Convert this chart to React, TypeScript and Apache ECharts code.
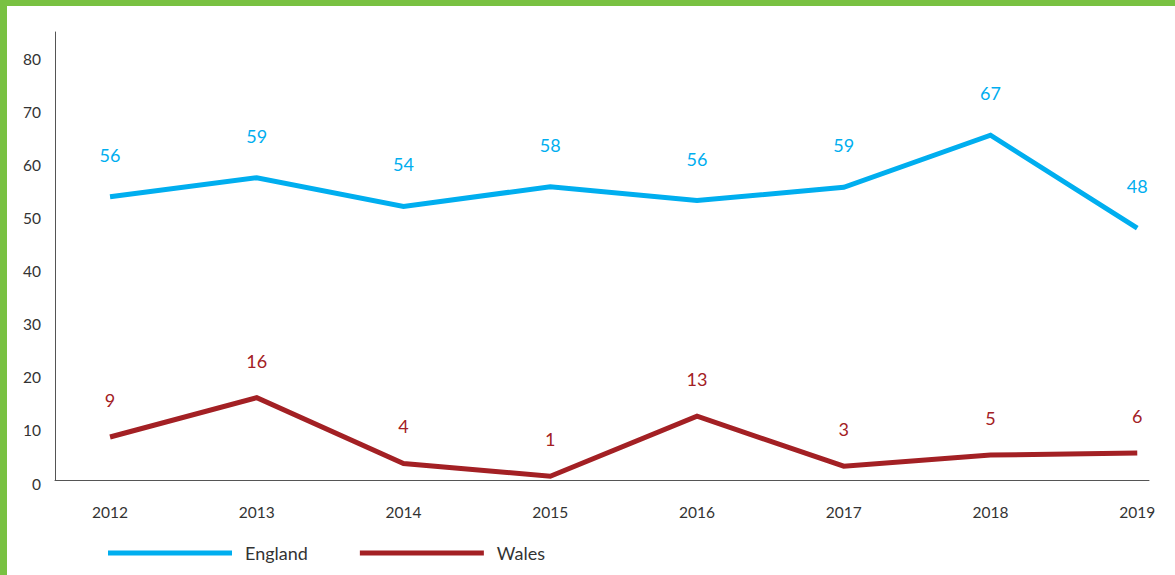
import React, { useEffect, useRef } from "react";
import * as echarts from "echarts";

const years = [2012, 2013, 2014, 2015, 2016, 2017, 2018, 2019];
// plotted line values
const englandValues = [53.3, 56.9, 51.5, 55.2, 52.6, 55.1, 64.9, 47.4];
const walesValues = [8.1, 15.5, 3.1, 0.7, 12.0, 2.6, 4.7, 5.1];
// printed data labels
const englandLabels = [56, 59, 54, 58, 56, 59, 67, 48];
const walesLabels = [9, 16, 4, 1, 13, 3, 5, 6];

const seriesNames = ["England", "Wales"];

const BLUE = "#00AEEF";
const RED = "#A32024";
const GREEN = "#79C142";
const FONT = "Lato";

export default function App() {
  const ref = useRef<HTMLDivElement>(null);

  useEffect(() => {
    if (!ref.current) return;
    const chart = echarts.init(ref.current, undefined, { renderer: "svg" });
    const mk = (vals: number[]) => years.map((y, i) => [y, vals[i]]);
    chart.setOption({
      animation: false,
      textStyle: { fontFamily: FONT },
      grid: { left: 55, right: 26, top: 32, bottom: 95, containLabel: false },
      legend: {
        data: seriesNames,
        left: 108,
        top: 543,
        padding: 0,
        icon: "rect",
        itemWidth: 124,
        itemHeight: 5,
        itemGap: 52,
        textStyle: {
          fontFamily: FONT,
          fontSize: 18,
          color: "#333333",
          lineHeight: 20,
          padding: [0, 0, 0, 8],
        },
      },
      xAxis: {
        type: "value",
        min: 2011.625,
        max: 2019.08,
        interval: 0.125,
        splitLine: { show: false },
        axisTick: { show: false },
        axisLine: { show: true, lineStyle: { color: "#555555", width: 1 } },
        axisLabel: {
          color: "#333333",
          fontFamily: FONT,
          fontSize: 15.5,
          margin: 24,
          showMinLabel: false,
          showMaxLabel: false,
          formatter: (v: number) => (Math.abs(v - Math.round(v)) < 1e-6 ? String(Math.round(v)) : ""),
        },
      },
      yAxis: {
        type: "value",
        min: 0,
        max: 84.33,
        interval: 10,
        splitLine: { show: false },
        axisTick: { show: false },
        axisLine: { show: true, lineStyle: { color: "#555555", width: 1 } },
        axisLabel: {
          color: "#333333",
          fontFamily: FONT,
          fontSize: 15.5,
          margin: 14,
          verticalAlign: "top",
          lineHeight: 7,
          showMaxLabel: false,
          formatter: (v: number) => (Number.isInteger(v) ? String(v) : ""),
        },
      },
      series: [
        {
          name: seriesNames[0],
          type: "line",
          data: mk(englandValues),
          color: BLUE,
          symbol: "circle",
          symbolSize: 0.1,
          showSymbol: true,
          lineStyle: { width: 5, color: BLUE, join: "miter", cap: "butt" },
          label: {
            show: true,
            position: "top",
            distance: 33,
            color: BLUE,
            fontFamily: FONT,
            fontSize: 18,
            formatter: (p: any) => String(englandLabels[p.dataIndex]),
          },
        },
        {
          name: seriesNames[1],
          type: "line",
          data: mk(walesValues),
          color: RED,
          symbol: "circle",
          symbolSize: 0.1,
          showSymbol: true,
          lineStyle: { width: 5, color: RED, join: "miter", cap: "butt" },
          label: {
            show: true,
            position: "top",
            distance: 28,
            color: RED,
            fontFamily: FONT,
            fontSize: 18,
            formatter: (p: any) => String(walesLabels[p.dataIndex]),
          },
        },
      ],
    });
    return () => chart.dispose();
  }, []);

  return (
    <div style={{ position: "absolute", left: 0, top: 0, width: 1175, height: 575, background: "#ffffff" }}>
      <div ref={ref} style={{ position: "absolute", left: 0, top: 0, width: 1175, height: 575 }} />
      <div style={{ position: "absolute", left: 0, top: 0, width: 1175, height: 6, background: GREEN }} />
      <div style={{ position: "absolute", left: 0, top: 0, width: 7, height: 575, background: GREEN }} />
    </div>
  );
}
